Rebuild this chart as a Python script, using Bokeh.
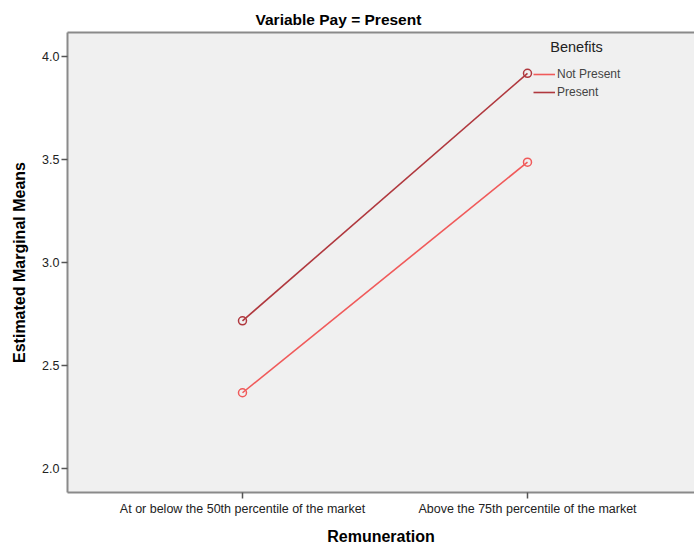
from bokeh.plotting import figure
from bokeh.models import (Range1d, FixedTicker, Legend, LegendItem, Label, Title,
                          NumeralTickFormatter, LinearAxis)
from bokeh.embed import file_html
from bokeh.resources import INLINE

categories = ["At or below the 50th percentile of the market",
              "Above the 75th percentile of the market"]
series_names = ["Not Present", "Present"]
not_present = [2.368, 3.487]
present = [2.717, 3.918]
y_ticks = [2.0, 2.5, 3.0, 3.5, 4.0]

colors = {"Not Present": "#f05a5a", "Present": "#b0383e"}
FONT = "Liberation Sans"

W, H = 694, 549
p = figure(width=W, height=H, output_backend="svg", toolbar_location=None,
           x_range=Range1d(-0.614, 1.586), y_range=Range1d(1.884, 4.116),
           min_border_left=67, min_border_right=0, min_border_top=32,
           min_border_bottom=57, background_fill_color="#f0f0f0",
           border_fill_color="white")

p.title = Title(text="Variable Pay = Present", align="left", offset=188,
                text_font=FONT, text_font_size="15.5px", text_font_style="bold",
                text_color="black", standoff=10)

p.xgrid.visible = False
p.ygrid.visible = False
p.outline_line_color = None

# top frame border drawn as a bare axis (no ticks, no labels)
top = LinearAxis(axis_line_color="#8a8a8a", axis_line_width=2,
                 major_tick_line_color=None, minor_tick_line_color=None,
                 major_label_text_color=None, major_label_standoff=0,
                 ticker=FixedTicker(ticks=[]))
p.add_layout(top, "above")

xs = list(range(len(categories)))
rends = {}
for name, vals in zip(series_names, [not_present, present]):
    c = colors[name]
    r = p.line(xs, vals, line_color=c, line_width=1.6)
    p.scatter(xs, vals, marker="circle", size=8, fill_color=None,
              line_color=c, line_width=1.5)
    rends[name] = r

# axes
bottom_axis = p.below[0]
p.yaxis.ticker = FixedTicker(ticks=y_ticks)
p.yaxis.formatter = NumeralTickFormatter(format="0.0")
for ax in (bottom_axis, p.yaxis[0]):
    ax.axis_line_color = "#8a8a8a"
    ax.axis_line_width = 2
    ax.major_tick_line_color = "#555555"
    ax.major_tick_line_width = 1.5
    ax.major_tick_in = 0
    ax.major_tick_out = 6
    ax.minor_tick_line_color = None
    ax.major_label_text_font = FONT
    ax.major_label_text_font_size = "12.5px"
    ax.major_label_text_color = "#222222"
    ax.axis_label_text_font = FONT
    ax.axis_label_text_font_size = "16px"
    ax.axis_label_text_font_style = "bold"
    ax.axis_label_text_color = "black"
bottom_axis.ticker = FixedTicker(ticks=xs)
bottom_axis.major_label_overrides = {i: c for i, c in enumerate(categories)}
bottom_axis.major_label_standoff = 3
bottom_axis.axis_label = "Remuneration"
bottom_axis.axis_label_standoff = 9
p.yaxis.major_label_standoff = 2
p.yaxis.axis_label = "Estimated Marginal Means"
p.yaxis.axis_label_standoff = 11

legend = Legend(items=[LegendItem(label=n, renderers=[rends[n]]) for n in series_names],
                location=(466, 391), padding=0, margin=0, spacing=0,
                glyph_width=22, glyph_height=18, label_standoff=2,
                label_text_font=FONT, label_text_font_size="12px",
                label_height=18,
                background_fill_alpha=0, border_line_alpha=0)
p.add_layout(legend)
p.add_layout(Label(x=1.172, y=4.044, text="Benefits", text_align="center",
                   text_baseline="middle", text_font=FONT, text_font_size="14.5px",
                   text_color="#222222"))

open("out.html", "w").write(file_html(p, INLINE))
